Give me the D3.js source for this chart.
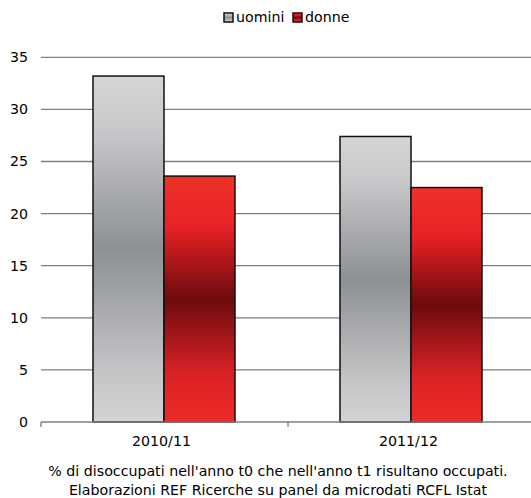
<!DOCTYPE html>
<html><head><meta charset="utf-8">
<script src="https://cdn.jsdelivr.net/npm/d3@7"></script>
<style>body{margin:0;background:#fff}svg{display:block}text{font-family:"DejaVu Sans",Verdana,sans-serif;fill:#000}</style>
</head><body>
<script>
const categories = ["2010/11", "2011/12"];
const seriesNames = ["uomini", "donne"];
const uomini = [33.2, 27.4];
const donne = [23.6, 22.5];
const yTicks = [0, 5, 10, 15, 20, 25, 30, 35];
const footer = ["% di disoccupati nell'anno t0 che nell'anno t1 risultano occupati.", "Elaborazioni REF Ricerche su panel da microdati RCFL Istat"];

const W = 531, H = 498;
const FS = 14.2;
const svg = d3.select("body").append("svg").attr("width", W).attr("height", H);
const defs = svg.append("defs");
const g1 = defs.append("linearGradient").attr("id","gGray").attr("x1",0).attr("y1",0).attr("x2",0).attr("y2",1);
[[0,"#d4d5d7"],[0.15,"#c8c9cb"],[0.5,"#8d9094"],[0.85,"#c3c4c6"],[1,"#d2d3d5"]].forEach(s=>g1.append("stop").attr("offset",s[0]).attr("stop-color",s[1]));
const g2 = defs.append("linearGradient").attr("id","gRed").attr("x1",0).attr("y1",0).attr("x2",0).attr("y2",1);
[[0,"#ee3129"],[0.2,"#ea2226"],[0.5,"#6d0b0d"],[0.8,"#d82226"],[1,"#ee2b27"]].forEach(s=>g2.append("stop").attr("offset",s[0]).attr("stop-color",s[1]));
const fills = ["url(#gGray)","url(#gRed)"];

const x0 = d3.scaleBand().domain(categories).range([41, 535]).paddingInner(0).paddingOuter(0);
const x1 = d3.scaleBand().domain(seriesNames).range([52, x0.bandwidth()-53]);
const y = d3.scaleLinear().domain([0, 35]).range([422, 57.3]);

// gridlines
svg.append("g").selectAll("line").data(yTicks.filter(d=>d>0)).join("line")
  .attr("x1", 41).attr("x2", 535).attr("y1", d=>y(d)).attr("y2", d=>y(d))
  .attr("stroke", "#7f7f7f").attr("stroke-width", 1.3);

// y labels
svg.append("g").selectAll("text").data(yTicks).join("text")
  .attr("x", 28).attr("y", d=>y(d)).attr("dy","0.35em").attr("text-anchor","end")
  .attr("font-size", FS).text(d=>d);

// bars
const data = categories.map((c,i)=>({c, vals:[uomini[i], donne[i]]}));
const grp = svg.append("g").selectAll("g").data(data).join("g").attr("transform", d=>`translate(${x0(d.c)},0)`);
grp.selectAll("rect").data(d=>d.vals.map((v,j)=>({v, s:seriesNames[j], j}))).join("rect")
  .attr("x", d=>x1(d.s)).attr("width", x1.bandwidth())
  .attr("y", d=>y(d.v)).attr("height", d=>y(0)-y(d.v))
  .attr("fill", d=>fills[d.j]).attr("stroke", "#111").attr("stroke-width", 1.5);

// x axis
svg.append("line").attr("x1",41).attr("x2",535).attr("y1",y(0)).attr("y2",y(0)).attr("stroke","#7f7f7f").attr("stroke-width",1.3);
const tickX = [x0(categories[0]), x0(categories[1])];
svg.append("g").selectAll("line").data(tickX).join("line")
  .attr("x1",d=>d).attr("x2",d=>d).attr("y1",y(0)).attr("y2",y(0)+5).attr("stroke","#555").attr("stroke-width",1);
svg.append("g").selectAll("text").data(categories).join("text")
  .attr("x", d=>x0(d)+x0.bandwidth()/2 - 3).attr("y", 446).attr("text-anchor","middle")
  .attr("font-size", FS).text(d=>d);

// footer
svg.append("g").selectAll("text").data(footer).join("text")
  .attr("x", 278).attr("y", (d,i)=>476+i*19).attr("text-anchor","middle")
  .attr("font-size", FS).text(d=>d);

// legend
const leg = svg.append("g");
const legX = [224, 293];
seriesNames.forEach((s,i)=>{
  leg.append("rect").attr("x", legX[i]).attr("y", 13).attr("width", 9).attr("height", 9)
    .attr("fill", fills[i]).attr("stroke","#111").attr("stroke-width",1.5);
  leg.append("text").attr("x", legX[i]+12).attr("y", 22).attr("font-size", FS).text(s);
});
</script>
</body></html>
